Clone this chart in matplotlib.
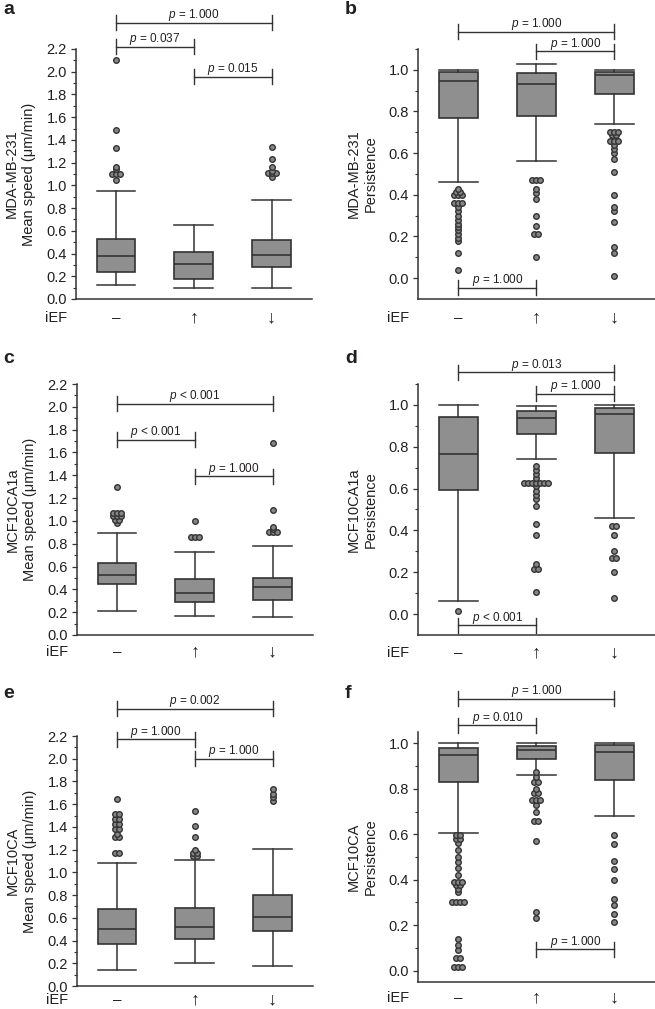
import numpy as np
import matplotlib
matplotlib.use('Agg')
import matplotlib.pyplot as plt

plt.rcParams['font.family'] = ['Liberation Sans', 'DejaVu Sans']
plt.rcParams['mathtext.fontset'] = 'custom'
plt.rcParams['mathtext.it'] = 'Liberation Sans:italic'
plt.rcParams['mathtext.rm'] = 'Liberation Sans'

groups = ['–', '↑', '↓']

# a: MDA-MB-231 mean speed
a_lo = [0.12, 0.10, 0.10]
a_q1 = [0.24, 0.18, 0.28]
a_med = [0.38, 0.31, 0.39]
a_q3 = [0.53, 0.41, 0.52]
a_hi = [0.95, 0.65, 0.87]
a_fliers = [[2.10, 1.49, 1.33, 1.16, 1.14, 1.10, 1.10, 1.10, 1.05],
            [],
            [1.34, 1.23, 1.16, 1.13, 1.11, 1.11, 1.11, 1.07]]
a_p = ['= 1.000', '= 0.037', '= 0.015']

# b: MDA-MB-231 persistence
b_lo = [0.46, 0.56, 0.74]
b_q1 = [0.77, 0.78, 0.885]
b_med = [0.947, 0.934, 0.974]
b_q3 = [0.989, 0.986, 0.989]
b_hi = [1.0, 1.03, 1.0]
b_fliers = [[0.43, 0.415, 0.415, 0.40, 0.40, 0.40, 0.36, 0.36, 0.36, 0.34, 0.32, 0.30,
             0.28, 0.26, 0.245, 0.23, 0.21, 0.195, 0.18, 0.12, 0.04],
            [0.47, 0.47, 0.47, 0.43, 0.41, 0.38, 0.30, 0.25, 0.21, 0.21, 0.10],
            [0.70, 0.70, 0.70, 0.685, 0.685, 0.66, 0.66, 0.66, 0.64, 0.62, 0.60, 0.57,
             0.51, 0.40, 0.34, 0.32, 0.27, 0.15, 0.12, 0.01]]
b_p = ['= 1.000', '= 1.000', '= 1.000']

# c: MCF10CA1a mean speed
c_lo = [0.21, 0.17, 0.16]
c_q1 = [0.445, 0.285, 0.31]
c_med = [0.53, 0.37, 0.42]
c_q3 = [0.63, 0.49, 0.50]
c_hi = [0.89, 0.73, 0.78]
c_fliers = [[1.30, 1.07, 1.07, 1.07, 1.04, 1.04, 1.04, 1.01, 1.01, 0.98],
            [1.00, 0.86, 0.86, 0.86],
            [1.68, 1.10, 0.95, 0.93, 0.90, 0.90, 0.90]]
c_p = ['< 0.001', '< 0.001', '= 1.000']

# d: MCF10CA1a persistence
d_lo = [0.064, 0.742, 0.459]
d_q1 = [0.592, 0.862, 0.771]
d_med = [0.763, 0.936, 0.958]
d_q3 = [0.944, 0.970, 0.987]
d_hi = [1.0, 0.997, 1.0]
d_fliers = [[0.014],
            [0.71, 0.69, 0.67, 0.65, 0.627, 0.627, 0.627, 0.627, 0.627, 0.627, 0.627,
             0.61, 0.59, 0.57, 0.55, 0.515, 0.43, 0.38, 0.24, 0.214, 0.214, 0.107],
            [0.42, 0.42, 0.38, 0.30, 0.266, 0.266, 0.20, 0.075]]
d_p = ['= 0.013', '= 1.000', '< 0.001']

# e: MCF10CA mean speed
e_lo = [0.14, 0.20, 0.18]
e_q1 = [0.37, 0.41, 0.485]
e_med = [0.50, 0.52, 0.61]
e_q3 = [0.68, 0.69, 0.80]
e_hi = [1.08, 1.11, 1.21]
e_fliers = [[1.65, 1.51, 1.51, 1.47, 1.47, 1.43, 1.43, 1.38, 1.38, 1.34, 1.31, 1.31, 1.17, 1.17],
            [1.54, 1.41, 1.31, 1.20, 1.17, 1.17, 1.14, 1.14],
            [1.73, 1.69, 1.66, 1.63]]
e_p = ['= 0.002', '= 1.000', '= 1.000']

# f: MCF10CA persistence
f_lo = [0.607, 0.859, 0.680]
f_q1 = [0.830, 0.933, 0.837]
f_med = [0.950, 0.969, 0.963]
f_q3 = [0.979, 0.987, 0.991]
f_hi = [1.0, 1.0, 1.0]
f_fliers = [[0.595, 0.595, 0.578, 0.578, 0.56, 0.53, 0.50, 0.48, 0.45, 0.42, 0.39, 0.39, 0.39,
             0.375, 0.375, 0.36, 0.345, 0.30, 0.30, 0.30, 0.30, 0.14, 0.115, 0.09,
             0.057, 0.057, 0.015, 0.015, 0.015],
            [0.875, 0.852, 0.828, 0.828, 0.80, 0.78, 0.78, 0.75, 0.75, 0.75, 0.73, 0.70,
             0.658, 0.658, 0.569, 0.26, 0.233],
            [0.595, 0.557, 0.482, 0.449, 0.40, 0.315, 0.29, 0.25, 0.214]]
f_p = ['= 1.000', '= 0.010', '= 1.000']

box_c = '#8f8f8f'
line_c = '#333333'
text_c = '#231f20'

W, H = 655, 1009
fig = plt.figure(figsize=(W / 100, H / 100), dpi=100)

panels = [
    # label, rect px (left, top, right, bottom), ylim, top tick, ylabel, data, p, pairs, bracket heights, row offset px
    ('a', (76, 49, 312, 299), (0, 2.2), 2.2, 'MDA-MB-231\nMean speed (μm/min)',
     (a_lo, a_q1, a_med, a_q3, a_hi, a_fliers), a_p, [(1, 3), (1, 2), (2, 3)], [2.43, 2.22, 1.957], 19),
    ('b', (418, 49, 655, 299), (-0.1, 1.1), 1.0, 'MDA-MB-231\nPersistence',
     (b_lo, b_q1, b_med, b_q3, b_hi, b_fliers), b_p, [(1, 3), (2, 3), (1, 2)], [1.184, 1.088, -0.046], 19),
    ('c', (77, 384, 313, 635), (0, 2.2), 2.2, 'MCF10CA1a\nMean speed (μm/min)',
     (c_lo, c_q1, c_med, c_q3, c_hi, c_fliers), c_p, [(1, 3), (1, 2), (2, 3)], [2.027, 1.712, 1.39], 17),
    ('d', (418, 384, 655, 635), (-0.1, 1.1), 1.0, 'MCF10CA1a\nPersistence',
     (d_lo, d_q1, d_med, d_q3, d_hi, d_fliers), d_p, [(1, 3), (2, 3), (1, 2)], [1.155, 1.054, -0.053], 18),
    ('e', (77, 736, 313, 986), (0, 2.2), 2.2, 'MCF10CA\nMean speed (μm/min)',
     (e_lo, e_q1, e_med, e_q3, e_hi, e_fliers), e_p, [(1, 3), (1, 2), (2, 3)], [2.44, 2.17, 2.0], 14),
    ('f', (418, 732, 655, 982), (-0.05, 1.05), 1.0, 'MCF10CA\nPersistence',
     (f_lo, f_q1, f_med, f_q3, f_hi, f_fliers), f_p, [(1, 3), (1, 2), (2, 3)], [1.196, 1.079, 0.094], 16),
]

dodge = 0.052

for label, (l, t, r, b), ylim, ytop, ylab, data, pvals, pairs, heights, row in panels:
    ax = fig.add_axes([l / W, 1 - b / H, (r - l) / W, (b - t) / H])
    lo, q1, med, q3, hi, fl = data
    stats = [dict(med=med[i], q1=q1[i], q3=q3[i], whislo=lo[i], whishi=hi[i], fliers=[])
             for i in range(3)]
    ax.bxp(stats, positions=[1, 2, 3], widths=0.5, capwidths=0.5, patch_artist=True,
           showfliers=False,
           boxprops=dict(facecolor=box_c, edgecolor=line_c, linewidth=1.2),
           medianprops=dict(color=line_c, linewidth=1.2),
           whiskerprops=dict(color=line_c, linewidth=1.1),
           capprops=dict(color=line_c, linewidth=1.1))

    # outliers: equal values sit side by side
    for i, vals in enumerate(fl):
        vals = np.array(vals)
        for v in np.unique(vals):
            n = int(np.sum(vals == v))
            xs = i + 1 + (np.arange(n) - (n - 1) / 2) * dodge
            ax.plot(xs, [v] * n, 'o', ms=4.0, mfc='#858585', mec=line_c, mew=1.0,
                    clip_on=False, zorder=4)

    ax.set_xlim(0.485, 3.52)
    ax.set_ylim(*ylim)
    ax.set_yticks(np.arange(0, ytop + 0.01, 0.2))
    ax.set_yticks(np.arange(0, ylim[1] + 0.001, 0.1), minor=True)
    ax.yaxis.set_major_formatter(plt.FormatStrFormatter('%.1f'))
    ax.set_xticks([1, 2, 3], groups)
    ax.tick_params(axis='x', length=0, pad=row * 0.72, labelcolor=text_c)
    for tl, sz in zip(ax.get_xticklabels(), [11, 13, 13]):
        tl.set_fontsize(sz)
        tl.set_verticalalignment('center')
    ax.tick_params(axis='y', which='major', length=3.5, width=0.9, pad=3,
                   labelsize=10.5, labelcolor=text_c, color=line_c)
    ax.tick_params(axis='y', which='minor', length=2, width=0.8, color=line_c)
    for s in ['top', 'right']:
        ax.spines[s].set_visible(False)
    for s in ['left', 'bottom']:
        ax.spines[s].set_color(line_c)
        ax.spines[s].set_linewidth(1.1)
    ax.set_ylabel(ylab, fontsize=10.5, color=text_c, linespacing=1.25)
    ax.yaxis.set_label_coords(-0.17, 0.5)
    ax.text(-0.085, -row / (b - t), 'iEF', transform=ax.transAxes, ha='center', va='center',
            fontsize=10.5, color=text_c)

    # significance brackets
    h = 7.5 / 250 * (ylim[1] - ylim[0])
    for (x1, x2), y, p in zip(pairs, heights, pvals):
        ax.plot([x1, x2], [y, y], color=line_c, lw=1.0, clip_on=False)
        for xx in (x1, x2):
            ax.plot([xx, xx], [y - h, y + h], color=line_c, lw=1.0, clip_on=False)
        ax.annotate(f'$p$ {p}', xy=((x1 + x2) / 2, y), xytext=(0, 3.3),
                    textcoords='offset points', ha='center', va='baseline',
                    fontsize=8.5, color=text_c, annotation_clip=False)

    lx = 3 if l < 300 else 345
    ly = {49: 14, 384: 363, 736: 698, 732: 698}[t]
    fig.text(lx / W, 1 - ly / H, label, fontsize=14, fontweight='bold',
             va='baseline', ha='left', color=text_c)

fig.savefig('out.png', dpi=100)
